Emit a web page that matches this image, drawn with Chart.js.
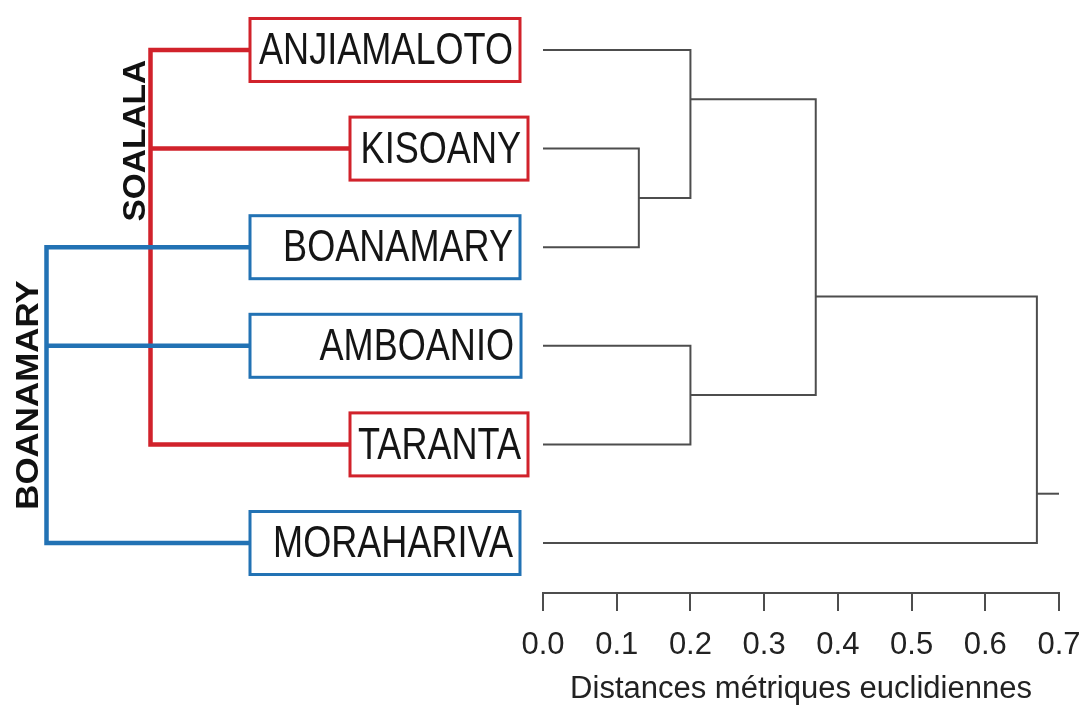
<!DOCTYPE html>
<html><head><meta charset="utf-8">
<script src="https://cdn.jsdelivr.net/npm/chart.js@4/dist/chart.umd.min.js"></script>
<style>html,body{margin:0;padding:0;background:#fff;}#wrap{width:1083px;height:705px;}</style>
</head><body><div id="wrap"><canvas id="c" width="1083" height="705"></canvas></div>
<script>
// ---- data ----
const leaves = ['ANJIAMALOTO','KISOANY','BOANAMARY','AMBOANIO','TARANTA','MORAHARIVA'];
const leafGroup = ['SOALALA','SOALALA','BOANAMARY','BOANAMARY','SOALALA','BOANAMARY'];
const groups = ['SOALALA','BOANAMARY'];
// merges: 'L<i>' = leaf i, 'M<j>' = merge j
const mergeLeft   = ['L1','L0','L3','M1','M3'];
const mergeRight  = ['L2','M0','L4','M2','L5'];
const mergeHeight = [0.13, 0.20, 0.20, 0.37, 0.67];
const mergePosition = [1.5, 0.5, 3.5, 2.5, 4.5];
const rootHeight = 0.70;
const xTicks = [0.0, 0.1, 0.2, 0.3, 0.4, 0.5, 0.6, 0.7];
const xTitle = 'Distances métriques euclidiennes';

// ---- styles / layout ----
const FONT = "'Liberation Sans', Arial, sans-serif";
const TREE_COLOR = '#4d4d4d';
const GROUP_STYLE = {
  SOALALA:   {color:'#d1222b', lineX:150.5, labelX:133.5, labelPos:0.92, stretch:1.045, size:32},
  BOANAMARY: {color:'#2272b4', lineX:46.5,  labelX:26.5,  labelPos:3.5,  stretch:1.09,  size:32}
};
const BOX_LEFT  = {ANJIAMALOTO:250, KISOANY:350, BOANAMARY:250, AMBOANIO:250, TARANTA:350, MORAHARIVA:250};
const BOX_RIGHT = {ANJIAMALOTO:520, KISOANY:528, BOANAMARY:520, AMBOANIO:521, TARANTA:528, MORAHARIVA:520};
const BOX_HALF = 31.5;
const LABEL_SIZE = 44, LABEL_SCALEX = 0.82;

function node(ref){
  const i = +ref.slice(1);
  return ref[0] === 'L' ? {h:0, y:i} : {h:mergeHeight[i], y:mergePosition[i]};
}
const lineStyle = {showLine:true, borderColor:TREE_COLOR, borderWidth:2, pointRadius:0, fill:false, clip:false, tension:0};
const datasets = mergeHeight.map((h, j) => {
  const a = node(mergeLeft[j]), b = node(mergeRight[j]);
  return Object.assign({label:'m'+j, data:[{x:a.h,y:a.y},{x:h,y:a.y},{x:h,y:b.y},{x:b.h,y:b.y}]}, lineStyle);
});
const last = mergeHeight.length - 1;
datasets.push(Object.assign({label:'root', data:[{x:mergeHeight[last],y:mergePosition[last]},{x:rootHeight,y:mergePosition[last]}]}, lineStyle));

const leftPanel = {
  id:'leftPanel',
  afterDraw(chart){
    const ctx = chart.ctx, ys = chart.scales.y;
    ctx.save();
    // group trees
    groups.forEach(g => {
      const st = GROUP_STYLE[g];
      const idx = leaves.map((l,i)=>i).filter(i => leafGroup[i] === g);
      const y0 = ys.getPixelForValue(Math.min(...idx)), y1 = ys.getPixelForValue(Math.max(...idx));
      ctx.strokeStyle = st.color; ctx.lineWidth = 4.5; ctx.lineCap = 'butt';
      ctx.beginPath();
      ctx.moveTo(st.lineX, y0 - 2.25); ctx.lineTo(st.lineX, y1 + 2.25);
      idx.forEach(i => {
        const y = ys.getPixelForValue(i);
        ctx.moveTo(st.lineX - 2.25, y); ctx.lineTo(BOX_LEFT[leaves[i]], y);
      });
      ctx.stroke();
    });
    // group labels
    groups.forEach(g => {
      const st = GROUP_STYLE[g];
      ctx.save();
      ctx.translate(st.labelX, ys.getPixelForValue(st.labelPos));
      ctx.rotate(-Math.PI/2);
      ctx.scale(st.stretch, 1);
      ctx.font = 'bold ' + st.size + 'px ' + FONT;
      ctx.fillStyle = '#111';
      ctx.textAlign = 'center'; ctx.textBaseline = 'alphabetic';
      ctx.fillText(g, 0, st.size * 0.716 / 2);
      ctx.restore();
    });
    // boxes and leaf labels
    leaves.forEach((l, i) => {
      const y = ys.getPixelForValue(i);
      const col = GROUP_STYLE[leafGroup[i]].color;
      const L = BOX_LEFT[l], R = BOX_RIGHT[l];
      ctx.fillStyle = '#fff';
      ctx.fillRect(L, y - BOX_HALF, R - L, 2 * BOX_HALF);
      ctx.strokeStyle = col; ctx.lineWidth = 3;
      ctx.strokeRect(L, y - BOX_HALF, R - L, 2 * BOX_HALF);
      ctx.save();
      ctx.translate(R - 7, y - 1.5 + LABEL_SIZE * 0.716 / 2);
      ctx.scale(LABEL_SCALEX, 1);
      ctx.font = LABEL_SIZE + 'px ' + FONT;
      ctx.fillStyle = '#151515';
      ctx.textAlign = 'right'; ctx.textBaseline = 'alphabetic';
      ctx.fillText(l, 0, 0);
      ctx.restore();
    });
    ctx.restore();
  }
};

Chart.defaults.font.family = FONT;
new Chart(document.getElementById('c'), {
  type:'scatter',
  data:{datasets},
  plugins:[leftPanel],
  options:{
    responsive:false, animation:false, devicePixelRatio:1,
    layout:{padding:{left:543, right:24, top:0, bottom:0}},
    plugins:{legend:{display:false}, tooltip:{enabled:false}},
    scales:{
      x:{
        type:'linear', position:'bottom', min:0, max:0.7,
        afterBuildTicks: s => { s.ticks = xTicks.map(v => ({value:v})); },
        afterFit: s => { s.height = 112; s.paddingLeft = 0; s.paddingRight = 0; },
        border:{display:true, color:TREE_COLOR, width:2},
        grid:{drawOnChartArea:false, drawTicks:true, tickLength:18, color:TREE_COLOR, lineWidth:2},
        ticks:{padding:19, color:'#222', autoSkip:false, maxRotation:0,
               font:{size:31, lineHeight:1}, callback: v => Number(v).toFixed(1)},
        title:{display:true, text:xTitle, color:'#222', font:{size:31, lineHeight:1}, padding:{top:0, bottom:0}}
      },
      y:{type:'linear', min:-0.507, max:5.507, reverse:true, display:false}
    }
  }
});
</script>
</body></html>
